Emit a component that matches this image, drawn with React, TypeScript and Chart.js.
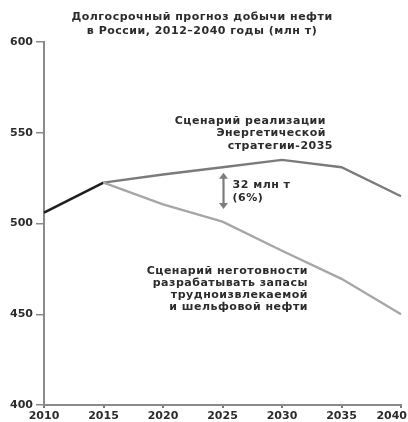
import React, { useEffect, useRef } from "react";
import { Chart, registerables } from "chart.js";

Chart.register(...registerables);

const years = ["2010", "2015", "2020", "2025", "2030", "2035", "2040"];
const actual = [506, 522.5, null, null, null, null, null];
const strategy = [null, 522.5, 527, 531, 535, 531, 515];
const unready = [null, 522.5, 510.5, 501, 485, 469.5, 450];
const yMin = 400;
const yMax = 600;
const yStep = 50;

const titleLines = ["Долгосрочный прогноз добычи нефти", "в России, 2012–2040 годы (млн т)"];
const strategyLabel = ["Сценарий реализации", "Энергетической", "стратегии-2035"];
const unreadyLabel = ["Сценарий неготовности", "разрабатывать запасы", "трудноизвлекаемой", "и шельфовой нефти"];
const gapLabel = ["32 млн т", "(6%)"];
const gapTop = 528;
const gapBottom = 508;

const FONT_FAMILY = "'DejaVu Sans', sans-serif";
const TEXT = "#2b2b2b";

const annotations = {
  id: "annotations",
  afterDraw(chart: any) {
    const ctx = chart.ctx as CanvasRenderingContext2D;
    const xs = chart.scales.x;
    const ys = chart.scales.y;
    const W = chart.width;
    ctx.save();
    ctx.fillStyle = TEXT;
    ctx.font = `bold 11px ${FONT_FAMILY}`;
    ctx.textBaseline = "middle";

    // x tick labels (last one kept inside the canvas)
    ctx.textAlign = "center";
    years.forEach((t, i) => {
      const w = ctx.measureText(t).width;
      let cx = xs.getPixelForValue(i);
      cx = Math.min(cx, W - 1 - w / 2);
      ctx.fillText(t, cx, 416);
    });

    (ctx as any).letterSpacing = "0.5px";

    // title
    titleLines.forEach((t, i) => ctx.fillText(t, 202, 17 + i * 14));

    // strategy label (right aligned)
    ctx.textAlign = "right";
    const sRight = [326, 326, 333];
    strategyLabel.forEach((t, i) => ctx.fillText(t, sRight[i], 121 + i * 12.5));

    // unready label
    unreadyLabel.forEach((t, i) => ctx.fillText(t, 308, 271 + i * 12));

    // gap arrow
    const ax = xs.getPixelForValue(3) + 1;
    const y1 = ys.getPixelForValue(gapTop);
    const y2 = ys.getPixelForValue(gapBottom);
    ctx.strokeStyle = "#7d7d7d";
    ctx.fillStyle = "#7d7d7d";
    ctx.lineWidth = 2.2;
    ctx.beginPath();
    ctx.moveTo(ax, y1 + 3);
    ctx.lineTo(ax, y2 - 3);
    ctx.stroke();
    ctx.beginPath();
    ctx.moveTo(ax, y1);
    ctx.lineTo(ax - 4.5, y1 + 6);
    ctx.lineTo(ax + 4.5, y1 + 6);
    ctx.closePath();
    ctx.fill();
    ctx.beginPath();
    ctx.moveTo(ax, y2);
    ctx.lineTo(ax - 4.5, y2 - 6);
    ctx.lineTo(ax + 4.5, y2 - 6);
    ctx.closePath();
    ctx.fill();

    ctx.fillStyle = TEXT;
    ctx.textAlign = "left";
    gapLabel.forEach((t, i) => ctx.fillText(t, ax + 9, 185 + i * 13));
    ctx.restore();
  },
};

export default function App() {
  const ref = useRef<HTMLCanvasElement | null>(null);
  useEffect(() => {
    document.body.style.margin = "0";
    if (!ref.current) return;
    const chart = new Chart(ref.current, {
      type: "line",
      data: {
        labels: years,
        datasets: [
          { data: unready, borderColor: "#a6a6a6", borderWidth: 2.3, pointRadius: 0, tension: 0 },
          { data: strategy, borderColor: "#7b7b7b", borderWidth: 2.3, pointRadius: 0, tension: 0 },
          { data: actual, borderColor: "#1e1e1e", borderWidth: 2.6, pointRadius: 0, tension: 0 },
        ],
      },
      options: {
        animation: false,
        responsive: true,
        maintainAspectRatio: false,
        layout: { padding: { top: 42, right: 7, bottom: 0, left: 0 } },
        plugins: { legend: { display: false }, title: { display: false }, tooltip: { enabled: false } },
        scales: {
          x: {
            type: "category",
            offset: false,
            afterFit: (s: any) => {
              s.height = 17;
              s.paddingLeft = 0;
              s.paddingRight = 0;
            },
            grid: { drawOnChartArea: false, drawTicks: true, tickLength: 3, color: "#777", lineWidth: 2 },
            border: { display: true, color: "#8a8a8a", width: 2 },
            ticks: { display: false, autoSkip: false, maxRotation: 0 },
          },
          y: {
            type: "linear",
            min: yMin,
            max: yMax,
            afterFit: (s: any) => {
              s.width = 44;
              s.paddingTop = 0;
              s.paddingBottom = 0;
            },
            grid: { drawOnChartArea: false, drawTicks: true, tickLength: 8, color: "#8a8a8a", lineWidth: 1.5 },
            border: { display: true, color: "#8a8a8a", width: 2 },
            ticks: {
              stepSize: yStep,
              color: TEXT,
              padding: 3,
              callback: (v: any) => String(v),
              font: { family: FONT_FAMILY, size: 11, weight: "bold" },
            },
          },
        },
      },
      plugins: [annotations],
    });
    return () => chart.destroy();
  }, []);
  return (
    <div style={{ width: 408, height: 422, position: "relative" }}>
      <canvas ref={ref} />
    </div>
  );
}
